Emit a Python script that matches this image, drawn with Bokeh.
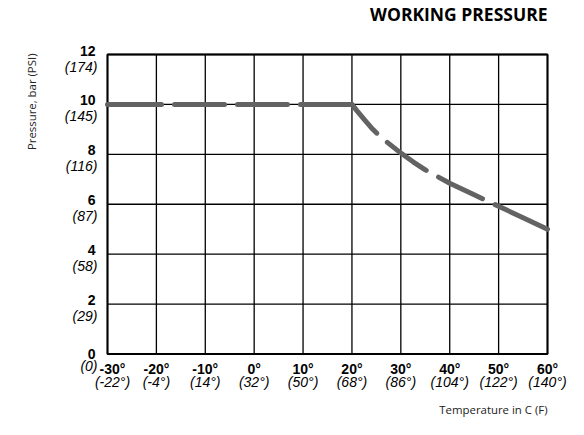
from bokeh.plotting import figure
from bokeh.models import Range1d
from bokeh.core.properties import value
from bokeh.embed import file_html
from bokeh.resources import INLINE
import math

# ---- data ----
temps_c = [-30, -20, -10, 0, 10, 20, 21, 22.5, 24, 25, 26, 27.5, 30, 32.5, 35, 40, 45, 50, 55, 60]
pressure_bar = [10, 10, 10, 10, 10, 10, 9.75, 9.40, 9.06, 8.86, 8.68, 8.44, 8.05, 7.70, 7.38,
                6.84, 6.38, 5.92, 5.46, 5.0]

x_ticks = [-30, -20, -10, 0, 10, 20, 30, 40, 50, 60]
x_labels_c = ["-30°", "-20°", "-10°", "0°", "10°", "20°", "30°", "40°", "50°", "60°"]
x_labels_f = ["(-22°)", "(-4°)", "(14°)", "(32°)", "(50°)", "(68°)", "(86°)", "(104°)", "(122°)", "(140°)"]

y_ticks = [0, 2, 4, 6, 8, 10, 12]
y_labels_bar = ["0", "2", "4", "6", "8", "10", "12"]
y_labels_psi = ["(0)", "(29)", "(58)", "(87)", "(116)", "(145)", "(174)"]

title_text = "WORKING PRESSURE"
x_title = "Temperature in C (F)"
y_title = "Pressure, bar (PSI)"

# ---- layout (pixels) ----
W, H = 576, 427
FX0, FX1 = 107, 547        # plot box left / right
FY0, FY1 = 54, 353.5       # plot box top / bottom

xmin, xmax = x_ticks[0], x_ticks[-1]
ymin, ymax = y_ticks[0], y_ticks[-1]
sx = (xmax - xmin) / (FX1 - FX0)
sy = (ymax - ymin) / (FY1 - FY0)
x_range = Range1d(xmin - FX0 * sx, xmax + (W - FX1) * sx)
y_range = Range1d(ymin - (H - FY1) * sy, ymax + FY0 * sy)

p = figure(width=W, height=H, output_backend="svg", toolbar_location=None,
           x_range=x_range, y_range=y_range, x_axis_location=None, y_axis_location=None,
           min_border=0)
p.outline_line_color = None
p.grid.visible = False
p.background_fill_color = "white"
p.border_fill_color = "white"

# grid lines
p.segment(x0=x_ticks, y0=[ymin] * len(x_ticks), x1=x_ticks, y1=[ymax] * len(x_ticks),
          line_color="black", line_width=1.3)
p.segment(x0=[xmin] * len(y_ticks), y0=y_ticks, x1=[xmax] * len(y_ticks), y1=y_ticks,
          line_color="black", line_width=1.3)
# plot box
p.quad(left=[xmin], right=[xmax], bottom=[ymin], top=[ymax], fill_color=None,
       line_color="black", line_width=2)

# pressure curve (flat part and derating part, dashed)
k = temps_c.index(20)
p.line(temps_c[:k + 1], pressure_bar[:k + 1], line_color="#636363", line_width=5,
       line_cap="round", line_dash="54 13 50 13 50 13 50 13")
p.line(temps_c[k:], pressure_bar[k:], line_color="#636363", line_width=5,
       line_cap="round", line_dash="38 14 48 14 49 14 80 14")

tick_font = value("Liberation Sans")

# x tick labels
xo = [5 if i == 0 else 0 for i in range(len(x_ticks))]
p.text(x=x_ticks, y=[ymin] * len(x_ticks), text=x_labels_c, x_offset=xo, y_offset=14.5,
       text_align="center", text_baseline="alphabetic", text_font=tick_font,
       text_font_size="14px", text_font_style="bold", text_color="black")
p.text(x=x_ticks, y=[ymin] * len(x_ticks), text=x_labels_f, x_offset=xo, y_offset=27.5,
       text_align="center", text_baseline="alphabetic", text_font=tick_font,
       text_font_size="14px", text_font_style="italic", text_color="black")

# y tick labels
yo_b = [-0.5 if v == ymin else -4 for v in y_ticks]
yo_i = [12 if v == ymin else 12 for v in y_ticks]
p.text(x=[xmin] * len(y_ticks), y=y_ticks, text=y_labels_bar, x_offset=-12, y_offset=yo_b,
       text_align="right", text_baseline="alphabetic", text_font=tick_font,
       text_font_size="14px", text_font_style="bold", text_color="black")
p.text(x=[xmin] * len(y_ticks), y=y_ticks, text=y_labels_psi, x_offset=-10, y_offset=yo_i,
       text_align="right", text_baseline="alphabetic", text_font=tick_font,
       text_font_size="14px", text_font_style="italic", text_color="black")

# titles
p.text(x=[xmax], y=[ymax], text=[title_text], y_offset=-40.5, text_align="right",
       text_baseline="alphabetic", text_font=value("Open Sans"), text_font_size="17.5px",
       text_font_style="bold", text_color="black")
p.text(x=[xmax], y=[ymin], text=[x_title], y_offset=55.5, text_align="right",
       text_baseline="alphabetic", text_font=value("Open Sans"), text_font_size="11.4px",
       text_color="#222222")
p.text(x=[xmin], y=[ymax], text=[y_title], x_offset=-76, y_offset=-1, angle=math.pi / 2,
       text_align="right", text_baseline="middle", text_font=value("Open Sans"),
       text_font_size="11.4px", text_color="#222222")

open("out.html", "w").write(file_html(p, INLINE))
